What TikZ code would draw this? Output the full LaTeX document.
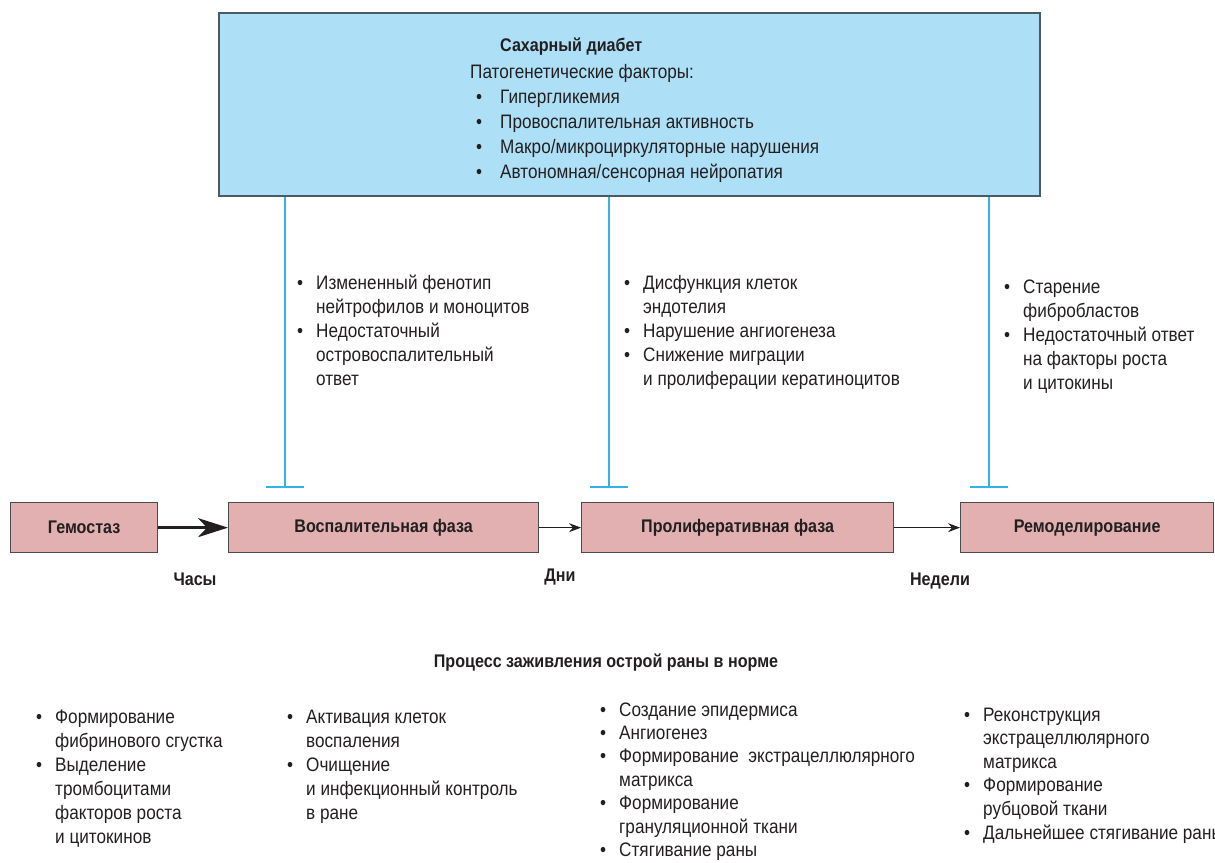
\documentclass[tikz,border=0pt]{standalone}
\usepackage{fontspec}
\setmainfont{Liberation Sans}[FakeStretch=0.88]
\usetikzlibrary{arrows.meta}
\definecolor{topfill}{HTML}{ADE0F7}
\definecolor{topborder}{HTML}{4D5A60}
\definecolor{phasefill}{HTML}{E2B0B0}
\definecolor{phaseborder}{HTML}{4A4A4A}
\definecolor{inhibblue}{HTML}{33B2E6}
\definecolor{txt}{HTML}{231F20}
\newcommand\bli[1]{\makebox[19pt][l]{•}#1}
\newcommand\cli[1]{\hspace*{19pt}#1}
\newcommand\tbli[1]{\makebox[24pt][l]{•}#1}
\tikzset{
  topbox/.style={draw=topborder, line width=2pt, fill=topfill, inner sep=0pt},
  phasebox/.style={draw=phaseborder, line width=1.3pt, fill=phasefill, inner sep=0pt,
    minimum height=50pt, anchor=north west, font=\fontsize{18.3}{24}\selectfont\bfseries, text=txt},
  txtblock/.style={inner sep=0pt, anchor=base west, font=\fontsize{19.5}{24}\selectfont, text=txt},
  toptxt/.style={inner sep=0pt, anchor=base west, font=\fontsize{19.5}{25}\selectfont, text=txt},
  boldlbl/.style={inner sep=0pt, font=\fontsize{18.3}{24}\selectfont\bfseries, text=txt},
  thickarrow/.style={line width=3pt, draw=txt, -{Stealth[length=30pt,width=19pt,inset=9pt]}},
  thinarrow/.style={line width=1.3pt, draw=txt, -{Stealth[length=12pt,width=9pt,inset=4pt]}},
  inhib/.style={line width=2pt, draw=inhibblue, -{Bar[width=38pt,line width=2pt]}}
}
\begin{document}
\begin{tikzpicture}[x=1pt,y=-1pt]
\useasboundingbox (0,0) rectangle (1215,862);

% top box
\node[topbox, minimum width=821pt, minimum height=183pt, anchor=north west] (dm) at (218,12) {};
\node[boldlbl, anchor=base west] (dmtitle) at (500,51) {Сахарный диабет};
\node[toptxt] (dmfactors) at (470,78) {\begin{tabular}[t]{@{}l@{}}
Патогенетические факторы:\\
\hspace*{6pt}\tbli{Гипергликемия}\\
\hspace*{6pt}\tbli{Провоспалительная активность}\\
\hspace*{6pt}\tbli{Макро/микроциркуляторные нарушения}\\
\hspace*{6pt}\tbli{Автономная/сенсорная нейропатия}
\end{tabular}};

% inhibition lines
\coordinate (t1) at (285,488);
\coordinate (t2) at (609,488);
\coordinate (t3) at (989,488);
\draw[inhib] (dm.south -| t1) -- (t1);
\draw[inhib] (dm.south -| t2) -- (t2);
\draw[inhib] (dm.south -| t3) -- (t3);

% middle texts
\node[txtblock] (m1) at (297,289) {\begin{tabular}[t]{@{}l@{}}
\bli{Измененный фенотип}\\
\cli{нейтрофилов и моноцитов}\\
\bli{Недостаточный}\\
\cli{островоспалительный}\\
\cli{ответ}
\end{tabular}};
\node[txtblock] (m2) at (624,289) {\begin{tabular}[t]{@{}l@{}}
\bli{Дисфункция клеток}\\
\cli{эндотелия}\\
\bli{Нарушение ангиогенеза}\\
\bli{Снижение миграции}\\
\cli{и пролиферации кератиноцитов}
\end{tabular}};
\node[txtblock] (m3) at (1004,293) {\begin{tabular}[t]{@{}l@{}}
\bli{Старение}\\
\cli{фибробластов}\\
\bli{Недостаточный ответ}\\
\cli{на факторы роста}\\
\cli{и цитокины}
\end{tabular}};

% phases
\node[phasebox, minimum width=147pt] (hem) at (10,502) {Гемостаз};
\node[phasebox, minimum width=310pt] (infl) at (228,502) {Воспалительная фаза};
\node[phasebox, minimum width=312pt] (prol) at (581,502) {Пролиферативная фаза};
\node[phasebox, minimum width=253pt] (rem) at (960,502) {Ремоделирование};

\draw[thickarrow] (hem.east) -- (infl.west);
\draw[thinarrow] (infl.east) -- (prol.west);
\draw[thinarrow] (prol.east) -- (rem.west);

% time labels
\node[boldlbl] (hours) at (195,579) {Часы};
\node[boldlbl] (days) at (560,577) {Дни};
\node[boldlbl] (weeks) at (940,581) {Недели};

\node[boldlbl] (proc) at (606,663) {Процесс заживления острой раны в норме};

% bottom texts
\node[txtblock] (b1) at (36,723) {\begin{tabular}[t]{@{}l@{}}
\bli{Формирование}\\
\cli{фибринового сгустка}\\
\bli{Выделение}\\
\cli{тромбоцитами}\\
\cli{факторов роста}\\
\cli{и цитокинов}
\end{tabular}};
\node[txtblock] (b2) at (287,723) {\begin{tabular}[t]{@{}l@{}}
\bli{Активация клеток}\\
\cli{воспаления}\\
\bli{Очищение}\\
\cli{и инфекционный контроль}\\
\cli{в ране}
\end{tabular}};
\node[txtblock] (b3) at (600,716) {\begin{tabular}[t]{@{}l@{}}
\bli{Создание эпидермиса}\\[-0.6pt]
\bli{Ангиогенез}\\[-0.6pt]
\bli{Формирование\ \ экстрацеллюлярного}\\[-0.6pt]
\cli{матрикса}\\[-0.6pt]
\bli{Формирование}\\[-0.6pt]
\cli{грануляционной ткани}\\[-0.6pt]
\bli{Стягивание раны}
\end{tabular}};
\node[txtblock] (b4) at (964,721) {\begin{tabular}[t]{@{}l@{}}
\bli{Реконструкция}\\[-0.4pt]
\cli{экстрацеллюлярного}\\[-0.4pt]
\cli{матрикса}\\[-0.4pt]
\bli{Формирование}\\[-0.4pt]
\cli{рубцовой ткани}\\[-0.4pt]
\bli{Дальнейшее стягивание раны}
\end{tabular}};
\end{tikzpicture}
\end{document}
